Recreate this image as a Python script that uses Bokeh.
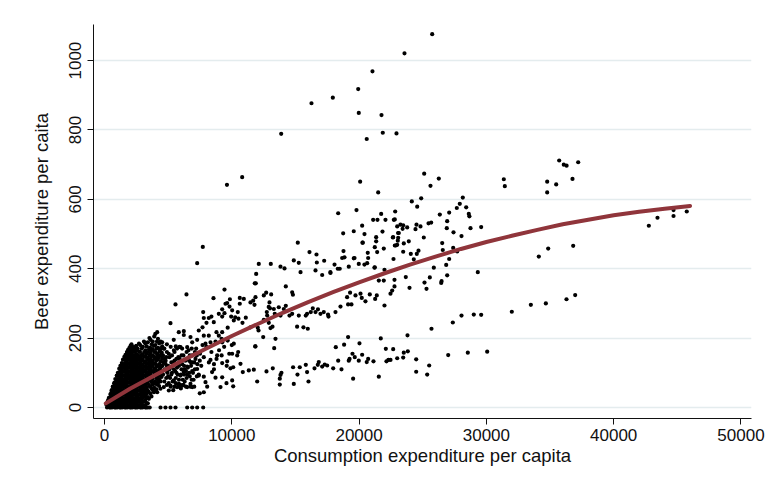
from bokeh.plotting import figure
from bokeh.models import Range1d, FixedTicker
from bokeh.embed import file_html
from bokeh.resources import INLINE

# ---- data (x = consumption exp. per capita, y = beer exp. per capita)
outlier_pts = [
    (16260, 877), (17935, 893), (19930, 918), (21050, 969), (23566, 1021), (25742, 1076),
    (19975, 849), (21760, 843), (13880, 789), (21860, 792), (22937, 790), (20600, 774),
    (9620, 642), (10815, 664), (7722, 463), (7280, 416), (20083, 651), (21500, 620),
    (25114, 674), (25608, 639), (26261, 660),
    (31368, 658), (31447, 638), (34775, 651), (34775, 620), (35483, 643), (35718, 712),
    (36080, 700), (36300, 697), (36763, 659), (37211, 707),
    (34117, 435), (34855, 458), (36818, 466),
    (33492, 296), (34670, 300), (36292, 312), (36975, 324), (31996, 276), (30062, 161), (29325, 390),
    (42760, 524), (43440, 547), (44700, 552), (44700, 569), (45740, 565),
]

right_cluster_pts = [
    (22836, 565), (22805, 542), (22993, 522), (23120, 503), (23072, 489), (23040, 481), (22678, 491),
    (22805, 467), (22993, 469), (23464, 525), (23418, 515), (23777, 519), (23511, 473), (23904, 479),
    (22702, 428), (23464, 449), (22780, 368), (22780, 349), (22600, 337), (22466, 328), (23668, 376),
    (23960, 345), (24062, 443), (24297, 427), (24140, 594), (24564, 579), (24878, 603), (24430, 514),
    (24509, 527), (24823, 522), (25082, 490), (24533, 443), (24666, 452), (25137, 360), (25295, 342),
    (25555, 375), (25869, 403), (25452, 531), (25664, 533), (26340, 556), (26920, 537), (26889, 517),
    (27077, 562), (26528, 474), (26574, 454), (27392, 460), (27077, 428), (26842, 411), (26920, 381),
    (26450, 359), (26480, 364), (27416, 505), (27675, 575), (27910, 587), (28146, 605), (28413, 577),
    (28617, 558), (28664, 551), (28751, 517), (28044, 494), (29590, 520), (27706, 450),
    (22727, 541), (23250, 527), (22650, 490), (22880, 467), (23060, 503),
]

middle_pts = [
    (18357, 560), (19795, 569), (21105, 541), (21443, 541), (22072, 541), (21734, 558), (20240, 524),
    (18750, 502), (19580, 508), (20423, 500), (20290, 475), (21341, 491), (21341, 479), (21837, 507),
    (21233, 462), (21940, 458), (20265, 475), (15184, 475), (16103, 448), (16653, 441), (16680, 418),
    (17257, 423), (14870, 424), (15262, 417), (13825, 406), (14140, 401), (12120, 414), (13064, 414),
    (17746, 390), (18326, 400), (19190, 406), (18774, 451), (18851, 433), (19580, 430), (20634, 416),
    (19975, 414), (20712, 431), (21210, 403), (21994, 397), (21550, 366), (21940, 366), (21420, 448),
    (20680, 446), (18670, 431), (19640, 431), (18070, 412), (18480, 400), (20420, 412), (11916, 385),
    (15400, 390), (16575, 395), (17100, 382), (17750, 388), (21230, 404), (11885, 358), (21390, 323),
    (21262, 313), (20840, 326), (20110, 328), (20210, 316), (20500, 306), (19716, 323), (19400, 297),
    (19136, 297), (19058, 318), (19292, 331), (18538, 291), (18145, 275), (17596, 262), (17560, 268),
    (17226, 275), (16967, 270), (16770, 283), (16575, 275), (16362, 286), (16205, 275), (15915, 270),
    (15970, 227), (15628, 231), (15813, 265), (15130, 233), (15262, 265), (14743, 270), (14532, 265),
    (14743, 332), (14800, 325), (14242, 349), (14242, 293), (14085, 284), (13690, 289), (13300, 284),
    (13377, 270), (13825, 265), (13094, 326), (12700, 331), (12514, 323), (12961, 303), (12900, 290),
    (13000, 286), (12750, 275), (12780, 265), (13197, 233), (12906, 244), (13040, 229), (13330, 171),
    (13432, 198), (12467, 203), (12040, 230), (12100, 222), (12514, 253), (11838, 176), (11468, 231),
    (11100, 259), (10840, 244), (10526, 256), (10157, 251), (10267, 260), (9950, 262), (10030, 280),
    (10470, 275), (10628, 299), (10943, 313), (11468, 303), (11680, 308), (11860, 318), (11806, 358),
    (11782, 296), (10628, 316), (9850, 312), (21994, 294), (9505, 299),
]

lower_band_pts = [
    (10157, 184), (10030, 155), (10110, 116), (10030, 78), (10110, 61), (10424, 150), (10500, 160),
    (10683, 126), (10864, 102), (11335, 107), (11728, 109), (11995, 75), (11860, 176), (12725, 104),
    (13220, 113), (13825, 94), (13770, 83), (13770, 66), (13900, 100), (14815, 116), (14870, 68),
    (15160, 95), (15340, 116), (15813, 123), (15915, 102), (16024, 75), (16496, 113), (16755, 123),
    (16833, 131), (17100, 118), (17300, 124), (17494, 121), (17965, 113), (18170, 174), (18617, 110),
    (18357, 135), (18822, 181), (19190, 135), (19250, 140), (19136, 203), (19481, 155), (19530, 83),
    (19660, 145), (20030, 185), (19975, 135), (20240, 152), (20600, 131), (20712, 140), (21130, 133),
    (21550, 89), (21703, 199), (22100, 169), (22150, 133), (22300, 137),
    (22466, 137), (22678, 168), (22993, 142), (23464, 144), (23511, 158), (23826, 162), (24485, 139),
    (24485, 103), (25349, 95), (25506, 121), (23802, 208), (25687, 227), (27000, 151), (27361, 245),
    (28044, 265), (29010, 268), (29590, 267), (28540, 158),
]

left_pts = [
    (6440, 326), (5577, 297), (8562, 315), (9426, 340), (9638, 301), (9820, 291), (9245, 283),
    (9426, 272), (8980, 270), (7753, 275), (7800, 258), (8193, 258), (8400, 262), (8012, 244),
    (8585, 246), (9245, 262), (5184, 243), (4140, 217), (5837, 217), (6230, 220), (6230, 209),
    (7407, 222), (7700, 231), (7800, 207), (8193, 207), (8798, 217), (8980, 207), (9245, 217),
    (9678, 230), (9200, 198), (9678, 193), (9245, 188), (8720, 190), (8326, 188), (7934, 184),
    (7280, 195), (6890, 188), (6755, 203), (6496, 174), (5970, 174), (5600, 176), (5440, 195),
    (4530, 188), (4900, 182),
    (7485, 135), (8326, 137), (8850, 150), (8600, 125), (9245, 128), (9638, 133), (9900, 113),
    (8452, 102), (8720, 86), (9245, 87), (9583, 70), (9112, 59), (7800, 44), (7485, 41), (8066, 60),
    (7934, 73), (7800, 89), (7407, 92), (7280, 111), (6890, 105), (6496, 118), (6755, 131), (6230, 102),
    (5970, 92), (5837, 68), (5440, 78), (5500, 60), (5700, 59), (6100, 63), (6496, 59), (6755, 68),
    (6890, 59), (5184, 63), (5052, 49), (4660, 59), (4400, 54), (4140, 44), (4925, 102), (4790, 126),
    (5184, 116), (4270, 78), (3750, 68),
    (4400, 0), (4790, 0), (5184, 0), (5577, 0), (6496, 0), (6890, 0), (7280, 0), (7753, 0),
    (4600, 150), (4700, 170), (4800, 135), (4900, 160), (5000, 120), (5100, 145), (5200, 175),
    (5300, 100), (5400, 130), (5500, 160), (5600, 85), (5700, 115), (5800, 145), (5900, 175),
    (6000, 95), (6100, 125), (6200, 150), (6300, 75), (6400, 105), (6500, 140), (6600, 165),
    (6700, 90), (6800, 120), (6900, 150), (7000, 80), (7100, 110), (7200, 170), (4600, 95),
    (4700, 75), (4900, 65), (5000, 90), (5200, 60), (5400, 50), (5600, 70), (5800, 60), (6000, 55),
    (6200, 65), (6400, 60), (4550, 120), (4750, 110), (4950, 100), (5150, 85), (5350, 75),
    (5550, 105), (5750, 95), (5950, 65), (6150, 80), (6350, 135), (6550, 115), (6750, 60),
    (6950, 100), (7150, 140), (7300, 125), (7500, 155), (7700, 180), (7400, 95), (7600, 120),
    (7800, 145), (8000, 175), (8200, 130), (8400, 160), (8600, 110), (8800, 140), (9000, 165),
    (9200, 150), (9400, 175), (9600, 120), (9800, 155), (10000, 180),
    (4650, 130), (4850, 145), (5050, 155), (5250, 130), (5450, 110), (5650, 140), (5850, 120),
    (6050, 150), (6250, 120), (6450, 85), (6650, 100), (6850, 80), (7050, 130), (7250, 150),
    (4650, 170), (4850, 85), (5050, 70), (5250, 95), (5450, 165), (5650, 100), (5850, 80),
    (6050, 110), (6250, 95), (6450, 160), (6650, 135), (6850, 170), (7050, 60), (7250, 90),
    (4700, 140), (4900, 120), (5100, 110), (5300, 150), (5500, 135), (5700, 170), (5900, 140),
    (6100, 170), (6300, 110), (6500, 95), (6700, 150), (6900, 130), (7100, 160),
]

blob_pts = [
    (150, 8), (250, 18), (350, 28), (460, 38), (560, 50), (650, 60), (760, 70), (850, 82), (960, 92),
    (1050, 100), (1160, 112), (1250, 120), (1360, 128), (1450, 138), (1560, 146), (1650, 152),
    (1760, 160), (1850, 166), (1960, 172), (2050, 178), (2120, 182),
    (290, 2), (320, 12), (300, 22),
    (480, 0), (520, 10), (500, 20), (490, 31), (530, 42),
    (690, 3), (720, 13), (700, 24), (680, 35), (710, 46), (740, 57),
    (880, 0), (910, 9), (900, 19), (920, 30), (890, 41), (930, 52), (900, 63), (940, 74),
    (1080, 4), (1110, 14), (1090, 25), (1120, 36), (1100, 47), (1130, 58), (1080, 69), (1110, 80), (1140, 91),
    (1280, 0), (1310, 10), (1290, 21), (1320, 32), (1300, 43), (1270, 54), (1330, 65), (1300, 76),
    (1280, 87), (1320, 98), (1340, 108),
    (1490, 5), (1520, 15), (1480, 26), (1510, 37), (1530, 48), (1490, 59), (1500, 70), (1540, 81),
    (1470, 92), (1510, 103), (1520, 114), (1550, 125),
    (1680, 0), (1710, 11), (1690, 22), (1720, 33), (1700, 44), (1730, 55), (1670, 66), (1710, 77),
    (1690, 88), (1720, 99), (1700, 110), (1740, 121), (1710, 132), (1730, 143),
    (1880, 6), (1910, 17), (1890, 28), (1920, 39), (1900, 50), (1870, 61), (1930, 72), (1900, 83),
    (1880, 94), (1910, 105), (1940, 116), (1890, 127), (1920, 138), (1900, 149), (1940, 160),
    (2080, 0), (2110, 12), (2090, 23), (2120, 34), (2100, 45), (2070, 56), (2130, 67), (2100, 78),
    (2080, 89), (2110, 100), (2140, 111), (2090, 122), (2120, 133), (2100, 144), (2130, 155), (2150, 168),
    (2290, 4), (2310, 15), (2280, 26), (2320, 37), (2300, 48), (2270, 59), (2330, 70), (2300, 81),
    (2280, 92), (2310, 103), (2340, 114), (2290, 125), (2320, 136), (2300, 147), (2330, 160), (2310, 171),
    (2480, 0), (2510, 10), (2490, 21), (2520, 33), (2500, 44), (2470, 55), (2530, 66), (2500, 77),
    (2480, 88), (2510, 99), (2540, 110), (2490, 121), (2520, 132), (2500, 143), (2530, 154),
    (2510, 165), (2490, 178),
    (2690, 5), (2710, 16), (2680, 27), (2720, 38), (2700, 49), (2670, 60), (2730, 71), (2700, 82),
    (2680, 93), (2710, 104), (2740, 115), (2690, 126), (2720, 137), (2700, 148), (2730, 161), (2710, 184),
    (2880, 0), (2910, 11), (2890, 22), (2920, 33), (2900, 44), (2870, 56), (2930, 67), (2900, 78),
    (2880, 89), (2910, 100), (2940, 112), (2890, 124), (2920, 135), (2900, 150), (2930, 170),
    (3090, 6), (3110, 18), (3080, 30), (3120, 42), (3100, 55), (3070, 68), (3130, 80), (3100, 92),
    (3080, 104), (3110, 118), (3140, 131), (3090, 146), (3120, 160), (3100, 190),
    (3280, 0), (3310, 13), (3290, 27), (3320, 41), (3300, 58), (3270, 72), (3330, 86), (3300, 98),
    (3280, 111), (3310, 125), (3340, 140), (3290, 155), (3320, 176),
    (3490, 25), (3470, 45), (3530, 62), (3500, 79), (3480, 93), (3510, 107), (3540, 121), (3490, 136),
    (3520, 150), (3500, 168), (3530, 200),
    (3690, 32), (3710, 55), (3680, 74), (3720, 90), (3700, 105), (3670, 119), (3730, 133), (3700, 148),
    (3680, 165), (3710, 182),
    (3880, 44), (3910, 57), (3890, 72), (3920, 97), (3900, 112), (3870, 128), (3930, 141), (3900, 160),
    (3880, 178), (3910, 205),
    (4080, 52), (4110, 66), (4090, 84), (4120, 102), (4100, 118), (4070, 136), (4130, 152), (4100, 170), (4120, 190),
    (4290, 62), (4310, 80), (4280, 95), (4320, 110), (4300, 125), (4270, 145), (4330, 162), (4300, 185),
    (4480, 88), (4510, 104), (4490, 120), (4520, 140), (4500, 158), (4530, 176),
    (200, 0), (400, 0), (600, 0), (800, 0), (1000, 0), (1200, 0), (1400, 0), (1600, 0), (1800, 0),
    (2000, 0), (2200, 0), (2400, 0), (2600, 0), (2800, 0), (3000, 0), (3200, 0), (3400, 0), (3550, 0),
]

blob_fill_pts = [
    (400, 6), (410, 16), (390, 28),
    (600, 5), (610, 15), (590, 26), (620, 37), (600, 48),
    (800, 6), (790, 17), (810, 28), (800, 40), (820, 51), (790, 62), (805, 72),
    (1000, 5), (1010, 16), (990, 27), (1020, 38), (1000, 49), (985, 60), (1015, 71), (1000, 82), (1020, 92),
    (1200, 5), (1190, 16), (1210, 27), (1200, 38), (1220, 49), (1190, 60), (1210, 71), (1200, 82),
    (1180, 93), (1215, 103),
    (1400, 5), (1410, 16), (1390, 27), (1420, 38), (1400, 49), (1380, 60), (1410, 71), (1400, 82),
    (1390, 93), (1420, 104), (1400, 115), (1410, 125),
    (1600, 5), (1590, 16), (1610, 27), (1600, 38), (1620, 49), (1590, 60), (1610, 71), (1600, 82),
    (1580, 93), (1610, 104), (1600, 115), (1620, 126), (1600, 137),
    (1800, 5), (1810, 16), (1790, 27), (1820, 38), (1800, 49), (1780, 60), (1810, 71), (1800, 82),
    (1790, 93), (1820, 104), (1800, 115), (1810, 126), (1790, 137), (1820, 148), (1800, 158),
    (2000, 5), (1990, 16), (2010, 27), (2000, 38), (2020, 49), (1990, 60), (2010, 71), (2000, 82),
    (1980, 93), (2010, 104), (2000, 115), (2020, 126), (2000, 137), (1990, 148), (2010, 159), (2000, 168),
    (2200, 6), (2210, 17), (2190, 28), (2220, 40), (2200, 51), (2180, 62), (2210, 73), (2200, 84),
    (2190, 95), (2220, 106), (2200, 117), (2210, 128), (2190, 139), (2220, 150), (2200, 162), (2210, 175),
    (2400, 5), (2390, 16), (2410, 27), (2400, 38), (2420, 50), (2390, 61), (2410, 72), (2400, 83),
    (2380, 94), (2410, 105), (2400, 116), (2420, 127), (2400, 138), (2390, 150), (2410, 162), (2400, 174),
    (2600, 5), (2610, 16), (2590, 27), (2620, 38), (2600, 50), (2580, 61), (2610, 72), (2600, 83),
    (2590, 94), (2620, 105), (2600, 116), (2610, 127), (2590, 138), (2620, 150), (2600, 170),
    (2800, 5), (2790, 16), (2810, 27), (2800, 38), (2820, 50), (2790, 61), (2810, 72), (2800, 84),
    (2780, 95), (2810, 106), (2800, 118), (2820, 130), (2800, 143), (2790, 160), (2810, 180),
    (3000, 6), (3010, 17), (2990, 28), (3020, 40), (3000, 52), (2980, 63), (3010, 74), (3000, 86),
    (2990, 98), (3020, 110), (3000, 124), (3010, 138), (2990, 153), (3020, 175),
    (3200, 6), (3190, 20), (3210, 35), (3200, 48), (3220, 64), (3190, 78), (3210, 92), (3200, 105),
    (3180, 118), (3210, 132), (3200, 148), (3220, 165), (3200, 185),
    (3400, 12), (3410, 30), (3390, 50), (3420, 68), (3400, 86), (3380, 100), (3410, 114), (3400, 128),
    (3390, 143), (3420, 160), (3400, 188),
    (3600, 40), (3590, 60), (3610, 82), (3600, 98), (3620, 112), (3590, 126), (3610, 140), (3600, 157),
    (3580, 173), (3610, 195),
    (3800, 50), (3810, 66), (3790, 82), (3820, 104), (3800, 120), (3780, 135), (3810, 150), (3800, 168),
    (3790, 190),
    (4000, 48), (3990, 75), (4010, 92), (4000, 110), (4020, 126), (3990, 144), (4010, 160), (4000, 180),
    (3990, 212),
    (4200, 70), (4210, 88), (4190, 105), (4220, 120), (4200, 138), (4180, 155), (4210, 172), (4200, 198),
    (4400, 75), (4390, 96), (4410, 115), (4420, 132), (4400, 150), (4390, 168), (4410, 190),
]

# fitted curve
fit_x = [100, 2000, 4000, 6000, 8000, 10000, 12000, 14000, 16000, 18000, 20000, 22000, 24000,
         26000, 28000, 30000, 32000, 34000, 36000, 38000, 40000, 42000, 44000, 46000]
fit_y = [12, 54, 94, 133, 170, 206, 240, 273, 304, 333, 361, 387, 412,
         435, 457, 477, 495, 512, 528, 541, 554, 564, 573, 581]

x_ticks = [0, 10000, 20000, 30000, 40000, 50000]
y_ticks = [0, 200, 400, 600, 800, 1000]
x_title = "Consumption expenditure per capita"
y_title = "Beer expenditure per caita"

all_pts = (outlier_pts + right_cluster_pts + middle_pts + lower_band_pts + left_pts
           + blob_pts + blob_fill_pts)
xs = [pt[0] for pt in all_pts]
ys = [pt[1] for pt in all_pts]

FONT = "Liberation Sans"

p = figure(width=765, height=480, output_backend="svg", toolbar_location=None,
           x_range=Range1d(-864, 50825), y_range=Range1d(-31.7, 1104),
           min_border_left=93, min_border_right=14, min_border_top=24, min_border_bottom=62,
           background_fill_color="white", border_fill_color="white")
p.outline_line_color = None

p.xgrid.grid_line_color = None
p.ygrid.ticker = FixedTicker(ticks=y_ticks)
p.ygrid.grid_line_color = "#E4ECEE"
p.ygrid.grid_line_width = 1.3

for ax in (p.xaxis[0], p.yaxis[0]):
    ax.axis_line_color = "#111111"
    ax.axis_line_width = 1
    ax.major_tick_line_color = "#111111"
    ax.major_tick_out = 6
    ax.major_tick_in = 0
    ax.minor_tick_line_color = None
    ax.major_label_text_font = FONT
    ax.major_label_text_font_size = "17px"
    ax.major_label_text_color = "#111111"
    ax.axis_label_text_font = FONT
    ax.axis_label_text_font_size = "18.5px"
    ax.axis_label_text_font_style = "normal"
    ax.axis_label_text_color = "#111111"

p.xaxis.ticker = FixedTicker(ticks=x_ticks)
p.yaxis.ticker = FixedTicker(ticks=y_ticks)
p.yaxis.major_label_orientation = "vertical"
p.xaxis.axis_label = x_title
p.yaxis.axis_label = y_title
p.xaxis.major_label_standoff = 4
p.xaxis.axis_label_standoff = 1
p.yaxis.major_label_standoff = 6
p.yaxis.axis_label_standoff = 15

p.scatter(xs, ys, size=4.2, marker="circle", fill_color="black", line_color=None)
p.line(fit_x, fit_y, line_color="#90353B", line_width=4, line_cap="round", line_join="round")

open("out.html", "w").write(file_html(p, INLINE))
